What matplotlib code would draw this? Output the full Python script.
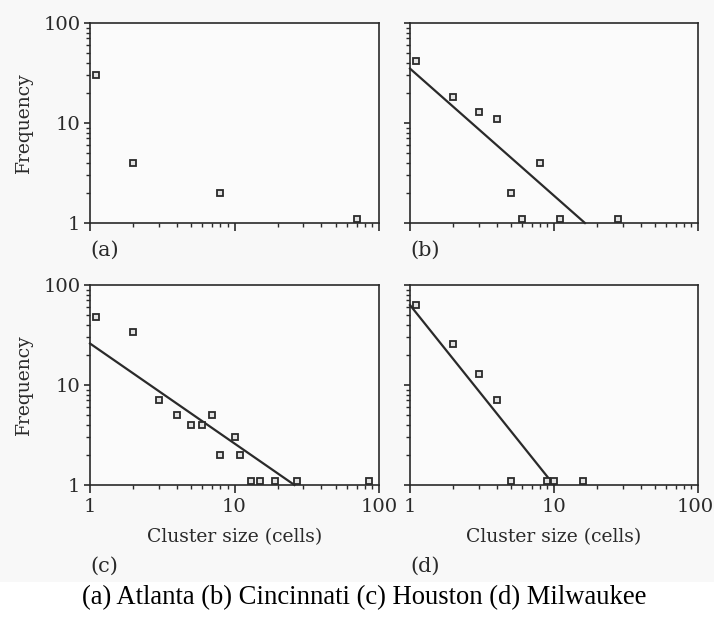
import matplotlib
matplotlib.use("Agg")
import matplotlib.pyplot as plt
import numpy as np
from matplotlib.ticker import LogLocator, NullFormatter, FixedFormatter, FixedLocator
from matplotlib.patches import Rectangle
from matplotlib.transforms import ScaledTranslation

# Cluster size / frequency observations per city
atlanta_size = [1.1, 2, 8, 70]
atlanta_freq = [30, 4, 2, 1.1]

cincinnati_size = [1.1, 2, 3, 4, 8, 5, 6, 11, 28]
cincinnati_freq = [42, 18, 13, 11, 4, 2, 1.1, 1.1, 1.1]
cincinnati_fit = ([1, 16.4], [35, 1])

houston_size = [1.1, 2, 3, 4, 5, 6, 7, 10, 8, 11, 13, 15, 19, 27, 85]
houston_freq = [48, 34, 7, 5, 4, 4, 5, 3, 2, 2, 1.1, 1.1, 1.1, 1.1, 1.1]
houston_fit = ([1, 26], [26, 1])

milwaukee_size = [1.1, 2, 3, 4, 5, 9, 10, 16]
milwaukee_freq = [63, 26, 13, 7, 1.1, 1.1, 1.1, 1.1]
milwaukee_fit = ([1, 10], [63, 1])

panel_tags = ["(a)", "(b)", "(c)", "(d)"]
caption = "(a) Atlanta (b) Cincinnati (c) Houston (d) Milwaukee"
y_ticks = [1, 10, 100]
y_ticklabels = ["1", "10", "100"]
x_ticks = [1, 10, 100]
x_ticklabels = ["1", "10", "100"]

W, H = 714, 617
fig = plt.figure(figsize=(W / 100, H / 100), dpi=100)
fig.patch.set_facecolor("white")
fig.patches.append(Rectangle((0, 1 - 582 / H), 1, 582 / H, transform=fig.transFigure,
                             facecolor="#f8f8f8", edgecolor="none", zorder=-10))

ink = "#2a2a2a"
serif = "DejaVu Serif"


def px_axes(l, t, r, b):
    return fig.add_axes([l / W, 1 - b / H, (r - l) / W, (b - t) / H])


boxes = [(90, 23, 379, 223), (410, 23, 698, 223),
         (90, 285, 379, 485), (410, 285, 698, 485)]
axes = [px_axes(*b) for b in boxes]

data = [
    (atlanta_size, atlanta_freq, None),
    (cincinnati_size, cincinnati_freq, cincinnati_fit),
    (houston_size, houston_freq, houston_fit),
    (milwaukee_size, milwaukee_freq, milwaukee_fit),
]

for i, (ax, (xs, ys, fit)) in enumerate(zip(axes, data)):
    ax.set_facecolor("#fbfbfb")
    ax.set_xscale("log")
    ax.set_yscale("log")
    ax.set_xlim(1, 100)
    ax.set_ylim(1, 100)
    if fit is not None:
        ax.plot(fit[0], fit[1], color=ink, lw=1.6, zorder=2, clip_on=False)
    ax.plot(xs, ys, ls="none", marker="s", ms=4.6, mfc="#e4e4e4", mec=ink,
            mew=1.3, zorder=3, clip_on=False)
    for s in ax.spines.values():
        s.set_color(ink)
        s.set_linewidth(1.2)
    ax.xaxis.set_major_locator(FixedLocator(x_ticks))
    ax.xaxis.set_minor_locator(LogLocator(base=10, subs=np.arange(2, 10)))
    ax.yaxis.set_major_locator(FixedLocator(y_ticks))
    ax.yaxis.set_minor_locator(LogLocator(base=10, subs=np.arange(2, 10)))
    ax.xaxis.set_minor_formatter(NullFormatter())
    ax.yaxis.set_minor_formatter(NullFormatter())
    ax.tick_params(axis="both", which="major", direction="out", length=6,
                   width=1.2, color=ink, labelsize=14, labelcolor=ink, pad=3)
    ax.tick_params(axis="both", which="minor", direction="out", length=3,
                   width=1.0, color=ink)
    ax.tick_params(axis="y", which="major", length=4)

    if i % 2 == 0:
        ax.yaxis.set_major_formatter(FixedFormatter(y_ticklabels))
        ax.set_ylabel("Frequency", fontsize=13.5, fontfamily=serif, color=ink)
        ax.yaxis.set_label_coords(-57 / 289, 0.5)
    else:
        ax.yaxis.set_major_formatter(NullFormatter())
    if i >= 2:
        ax.xaxis.set_major_formatter(FixedFormatter(x_ticklabels))
        ax.set_xlabel("Cluster size (cells)", fontsize=13.5, fontfamily=serif,
                      color=ink, labelpad=9)
    else:
        ax.xaxis.set_major_formatter(NullFormatter())

    for lab in ax.get_xticklabels() + ax.get_yticklabels():
        lab.set_fontfamily(serif)

    tag_y = 250 if i < 2 else 566
    fig.text(boxes[i][0] / W, 1 - tag_y / H, panel_tags[i], fontsize=15,
             fontfamily=serif, color=ink, ha="left", va="center")

# keep the rightmost "100" of the last panel inside the figure edge
last_labels = axes[3].get_xticklabels()
shift = ScaledTranslation(-3 / 100, 0, fig.dpi_scale_trans)
last_labels[-1].set_transform(last_labels[-1].get_transform() + shift)

fig.text(364 / W, 1 - 598 / H, caption, fontsize=19.2,
         fontfamily="Liberation Serif", color="black", ha="center", va="center")

fig.savefig("out.png", dpi=100)
